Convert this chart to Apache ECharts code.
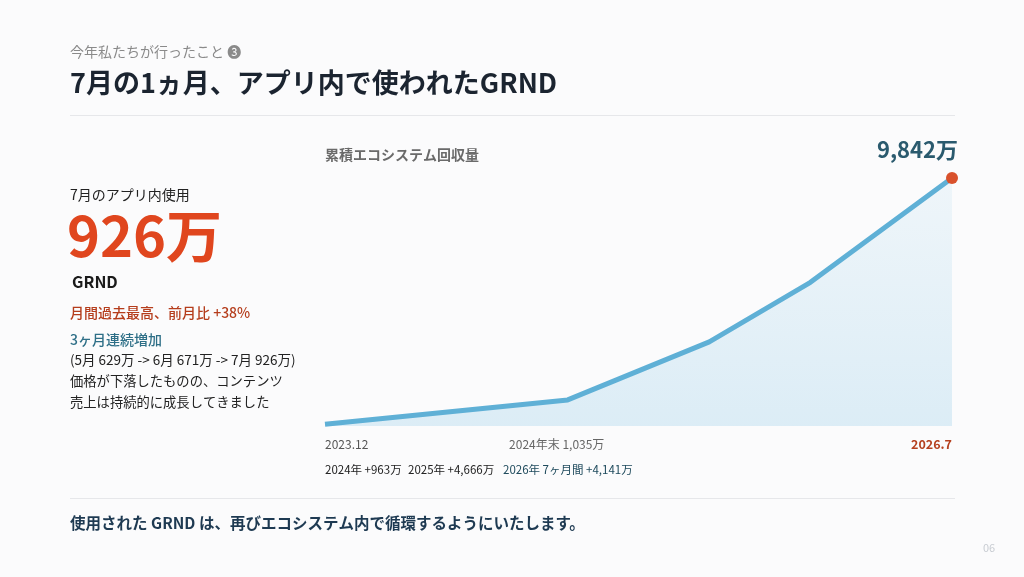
<!DOCTYPE html>
<html>
<head>
<meta charset="utf-8">
<script src="https://cdn.jsdelivr.net/npm/echarts@6/dist/echarts.min.js"></script>
<style>
  html, body { margin: 0; padding: 0; background: #fbfbfc; }
  #chart { width: 1024px; height: 577px; }
</style>
</head>
<body>
<div id="chart"></div>
<script>
// cumulative ecosystem recovery (万 GRND), by month
const months = ["2023-12", "2024-12", "2025-07", "2025-12", "2026-07"];
const cumulative = [72, 1035, 3340, 5701, 9842];

// axis labels under the plot
const tickLabels = ["2023.12", "2024年末 1,035万", "2026.7"];

// yearly increments row
const yearLabels = ["2024年", "2025年", "2026年 7ヶ月間"];
const yearIncrements = [963, 4666, 4141];

// monthly in-app usage (万)
const usageMonths = ["5月", "6月", "7月"];
const usageValues = [629, 671, 926];

const FONT = '"Noto Sans CJK JP", "Noto Sans", sans-serif';
const fmt = (v) => v.toLocaleString("en-US");

const start = months[0].split("-").map(Number);
const monthIndex = (s) => {
  const [y, m] = s.split("-").map(Number);
  return (y - start[0]) * 12 + (m - start[1]);
};
const xs = months.map(monthIndex);
const lastX = xs[xs.length - 1];
const tickValues = [0, monthIndex("2024-12"), lastX];

const seriesData = xs.map((x, i) => {
  const item = { value: [x, cumulative[i]] };
  if (i === xs.length - 1) {
    item.symbol = "circle";
    item.symbolSize = 12;
    item.itemStyle = { color: "#d9512c" };
    item.label = {
      show: true,
      position: "top",
      align: "right",
      offset: [6, -6],
      formatter: (p) => fmt(p.value[1]) + "万",
      fontFamily: FONT,
      fontSize: 22,
      fontWeight: "bold",
      color: "#2a5a6e"
    };
  }
  return item;
});

const txt = (x, y, text, font, fill, align) => ({
  type: "text",
  x: x,
  y: y,
  style: {
    text: text,
    font: font,
    fill: fill,
    textAlign: align || "left",
    textVerticalAlign: "middle"
  }
});

const lastU = usageValues.length - 1;
const usageLine = "(" + usageMonths.map((m, i) => m + " " + usageValues[i] + "万").join(" -> ") + ")";
const growth = Math.round((usageValues[lastU] / usageValues[lastU - 1] - 1) * 100);

const rowX = [325, 408, 503];
const rowColors = ["#222", "#222", "#1e4a5c"];

const myChart = echarts.init(document.getElementById("chart"));

const option = {
  backgroundColor: "#fbfbfc",
  animation: false,
  grid: { left: 325, right: 72, top: 174, bottom: 151 },
  xAxis: {
    type: "value",
    min: 0,
    max: lastX,
    splitLine: { show: false },
    axisLine: { show: false },
    axisTick: { show: false },
    axisLabel: {
      customValues: tickValues,
      margin: 12,
      alignMinLabel: "left",
      alignMaxLabel: "right",
      fontFamily: FONT,
      fontSize: 12,
      color: "#555",
      formatter: (v) => {
        const i = tickValues.indexOf(v);
        if (i === tickValues.length - 1) return "{end|" + tickLabels[i] + "}";
        if (i === 1) return "{mid|" + tickLabels[i] + "}";
        return i >= 0 ? tickLabels[i] : "";
      },
      rich: {
        mid: { color: "#666", fontSize: 12, fontFamily: FONT, padding: [0, 22, 0, 0] },
        end: { color: "#b5401f", fontWeight: "bold", fontSize: 12.5, fontFamily: FONT }
      }
    }
  },
  yAxis: {
    type: "value",
    min: 0,
    max: 10000,
    show: false,
    splitLine: { show: false }
  },
  series: [
    {
      type: "line",
      data: seriesData,
      symbol: "none",
      showSymbol: true,
      lineStyle: { color: "#5fb0d6", width: 5 },
      areaStyle: {
        color: new echarts.graphic.LinearGradient(0, 0, 0, 1, [
          { offset: 0, color: "rgba(200,228,242,0.35)" },
          { offset: 1, color: "rgba(195,225,241,0.8)" }
        ])
      }
    }
  ],
  graphic: [
    txt(70, 52, "今年私たちが行ったこと ❸", "14px " + FONT, "#8a8a8a"),
    txt(70, 83, "7月の1ヵ月、アプリ内で使われたGRND", "bold 27px " + FONT, "#1b2430"),
    { type: "rect", shape: { x: 70, y: 115, width: 885, height: 1 }, style: { fill: "#e6e7ea" } },

    txt(70, 195, "7月のアプリ内使用", "14px " + FONT, "#222"),
    txt(67, 236, usageValues[lastU] + "万", "bold 56px " + FONT, "#e0461e"),
    txt(72, 282, "GRND", "bold 16px " + FONT, "#1a1a1a"),
    txt(70, 313, "月間過去最高、前月比 +" + growth + "%", "500 14px " + FONT, "#b53d1c"),
    txt(70, 340, "3ヶ月連続増加", "500 14px " + FONT, "#2e6f87"),
    txt(70, 360, usageLine, "13.5px " + FONT, "#222"),
    txt(70, 381, "価格が下落したものの、コンテンツ", "13.3px " + FONT, "#222"),
    txt(70, 402, "売上は持続的に成長してきました", "13.3px " + FONT, "#222"),

    txt(325, 155, "累積エコシステム回収量", "bold 14px " + FONT, "#6a6a6a"),

    ...yearLabels.map((l, i) =>
      txt(rowX[i], 470, l + " +" + fmt(yearIncrements[i]) + "万", "11.5px " + FONT, rowColors[i])
    ),

    { type: "rect", shape: { x: 70, y: 498, width: 885, height: 1 }, style: { fill: "#e6e7ea" } },
    txt(70, 523, "使用された GRND は、再びエコシステム内で循環するようにいたします。", "bold 15.5px " + FONT, "#1e3a52"),
    txt(983, 548, "06", "11px " + FONT, "#c8ccd2")
  ]
};

myChart.setOption(option);
</script>
</body>
</html>
